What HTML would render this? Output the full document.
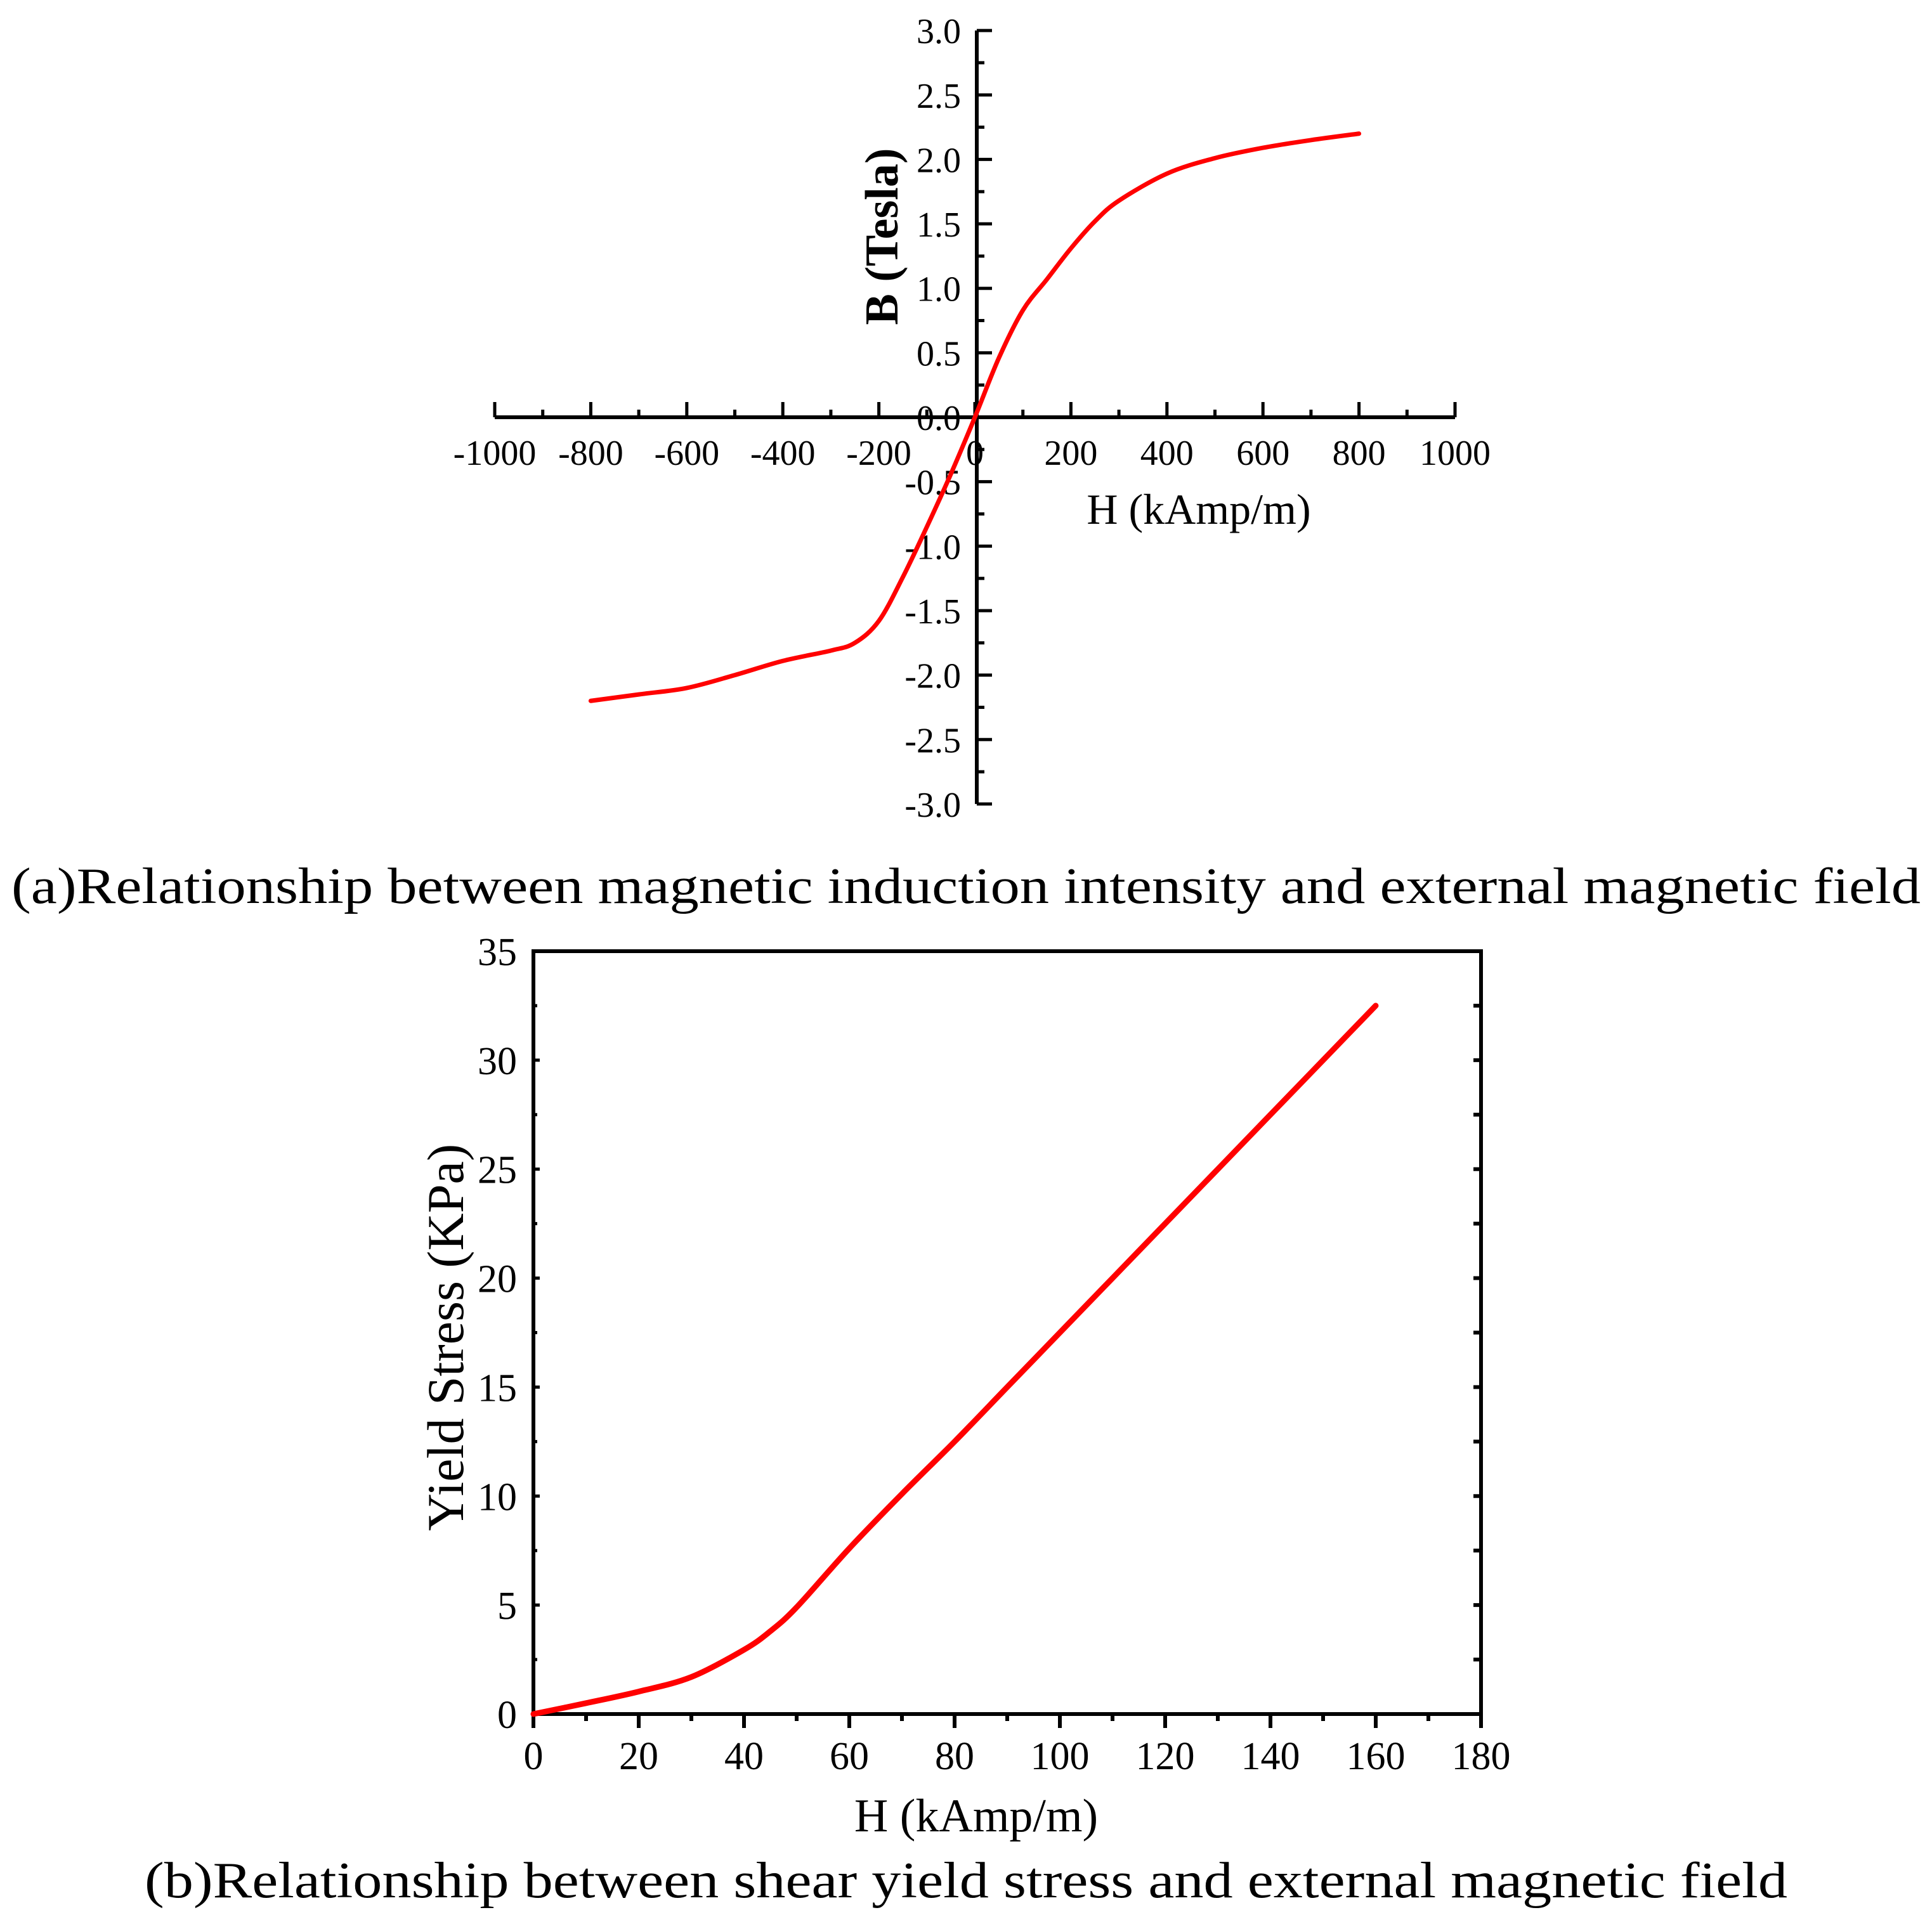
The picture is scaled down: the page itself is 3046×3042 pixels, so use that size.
<!DOCTYPE html>
<html><head><meta charset="utf-8"><style>
body{margin:0;background:#fff}
svg{display:block}
text{font-family:"Liberation Serif",serif;fill:#000}
</style></head><body>
<svg id="s" width="3046" height="3042" viewBox="0 0 3046 3042" xmlns="http://www.w3.org/2000/svg">
<g id="ga"></g>
<g id="gb"></g>
<text x="1523" y="1424" font-size="80" text-anchor="middle" textLength="3010" lengthAdjust="spacingAndGlyphs">(a)Relationship between magnetic induction intensity and external magnetic field</text>
<text x="1523" y="2992" font-size="80" text-anchor="middle" textLength="2590" lengthAdjust="spacingAndGlyphs">(b)Relationship between shear yield stress and external magnetic field</text>
</svg>
<script>
const aH=[-800,-700,-600,-500,-400,-300,-250,-200,-150,-100,-50,0,50,100,150,200,250,300,400,500,600,700,800];
const aB=[-2.2,-2.15,-2.1,-2.0,-1.89,-1.81,-1.75,-1.58,-1.24,-0.85,-0.44,0,0.46,0.83,1.07,1.31,1.52,1.68,1.89,2.01,2.09,2.15,2.2];
const aXTicks=[-1000,-800,-600,-400,-200,0,200,400,600,800,1000];
const aYTicks=["3.0","2.5","2.0","1.5","1.0","0.5","0.0","-0.5","-1.0","-1.5","-2.0","-2.5","-3.0"];
const bH=[0,10,20,30,40,45,50,60,70,80,90,100,110,120,130,140,150,160];
const bS=[0,0.5,1.03,1.7,2.95,3.8,4.9,7.6,10.1,12.5,15.0,17.5,20.0,22.5,25.0,27.5,30.0,32.5];
const bXTicks=[0,20,40,60,80,100,120,140,160,180];
const bYTicks=[0,5,10,15,20,25,30,35];
const NS="http://www.w3.org/2000/svg";
function mk(p,t,a){const e=document.createElementNS(NS,t);for(const k in a)e.setAttribute(k,a[k]);p.appendChild(e);return e;}
function smooth(pts){let d='M'+pts[0][0]+','+pts[0][1];for(let i=0;i<pts.length-1;i++){const p0=pts[i-1]||pts[i],p1=pts[i],p2=pts[i+1],p3=pts[i+2]||p2;
d+=' C'+(p1[0]+(p2[0]-p0[0])/6)+','+(p1[1]+(p2[1]-p0[1])/6)+' '+(p2[0]-(p3[0]-p1[0])/6)+','+(p2[1]-(p3[1]-p1[1])/6)+' '+p2[0]+','+p2[1];}return d;}
// chart a
const ga=document.getElementById('ga');
const ax=h=>1537+h*0.757, ay=b=>658-b*203.3;
let l=mk(ga,'line',{x1:ax(-1000),y1:ay(0),x2:ax(1000),y2:ay(0),stroke:'#000','stroke-width':6});

l=mk(ga,'line',{x1:1540,y1:ay(3),x2:1540,y2:ay(-3),stroke:'#000','stroke-width':6});

for(let h=-1000;h<=1000;h+=100){const maj=h%200===0;mk(ga,'line',{x1:ax(h),y1:ay(0),x2:ax(h),y2:ay(0)-(maj?24:12),stroke:'#000','stroke-width':5});}
for(let b=-3;b<=3.001;b+=0.25){const maj=Math.abs(b*2-Math.round(b*2))<1e-6;mk(ga,'line',{x1:1540,y1:ay(b),x2:1540+(maj?24:12),y2:ay(b),stroke:'#000','stroke-width':5});}
aXTicks.forEach(v=>{const t=mk(ga,'text',{x:ax(v),y:733,'font-size':56,'text-anchor':'middle'});t.textContent=v;
});
aYTicks.forEach(v=>{const t=mk(ga,'text',{x:1515,y:ay(parseFloat(v))+20,'font-size':56,'text-anchor':'end'});t.textContent=v;
});
let t=mk(ga,'text',{x:1890,y:826,'font-size':68,'text-anchor':'middle'});t.textContent='H (kAmp/m)';

t=mk(ga,'text',{x:0,y:0,'font-size':74,'text-anchor':'middle','font-weight':'bold',transform:'translate(1415,373) rotate(-90)'});t.textContent='B (Tesla)';

let p=mk(ga,'path',{d:smooth(aH.map((h,i)=>[ax(h),ay(aB[i])])),fill:'none',stroke:'#f00','stroke-width':7,'stroke-linejoin':'round','stroke-linecap':'round'});

// chart b
const gb=document.getElementById('gb');
const bx=h=>841+h*(1494/180), by=s=>2703-s*(1203/35);
const r=mk(gb,'rect',{x:841,y:by(35),width:1494,height:by(0)-by(35),fill:'none',stroke:'#000','stroke-width':6});

for(let h=0;h<=180;h+=10){const maj=h%20===0;mk(gb,'line',{x1:bx(h),y1:2703,x2:bx(h),y2:2703+(maj?22:11),stroke:'#000','stroke-width':6});}
for(let s=0;s<=35;s+=2.5){mk(gb,'line',{x1:2335,y1:by(s),x2:2335-12,y2:by(s),stroke:'#000','stroke-width':6});
mk(gb,'line',{x1:841,y1:by(s),x2:841+(s%5===0?10:6),y2:by(s),stroke:'#000','stroke-width':5});}
bXTicks.forEach(v=>{const t=mk(gb,'text',{x:bx(v),y:2790,'font-size':62,'text-anchor':'middle'});t.textContent=v;
});
bYTicks.forEach(v=>{const t=mk(gb,'text',{x:815,y:by(v)+22,'font-size':62,'text-anchor':'end'});t.textContent=v;
});
t=mk(gb,'text',{x:1539,y:2888,'font-size':74,'text-anchor':'middle'});t.textContent='H (kAmp/m)';

t=mk(gb,'text',{x:0,y:0,'font-size':82,'text-anchor':'middle',transform:'translate(730,2109) rotate(-90)'});t.textContent='Yield Stress (KPa)';

p=mk(gb,'path',{d:smooth(bH.map((h,i)=>[bx(h),by(bS[i])])),fill:'none',stroke:'#f00','stroke-width':9,'stroke-linejoin':'round','stroke-linecap':'round'});

</script>
</body></html>
